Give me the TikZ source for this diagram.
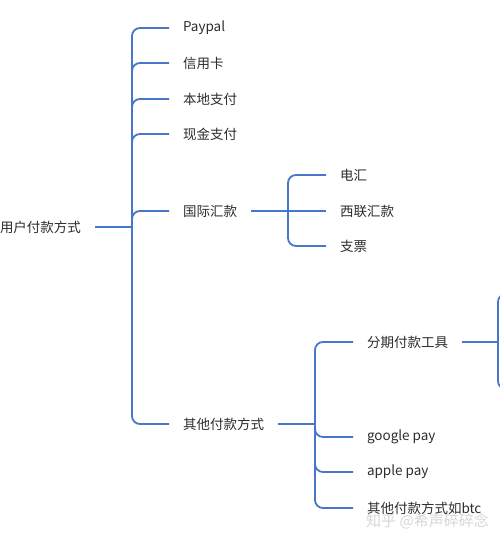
\documentclass[tikz,border=0pt]{standalone}
\usepackage{fontspec}
\setmainfont{Noto Sans CJK SC}
\usetikzlibrary{positioning}
\definecolor{linkblue}{RGB}{72,118,200}
\definecolor{textgray}{RGB}{45,45,45}

\tikzset{
  branch/.style={draw=linkblue,line width=1.8pt,rounded corners=8pt},
  item/.style={anchor=west,inner sep=0pt,outer xsep=14pt,text=textgray,font=\fontsize{13.5}{15}\selectfont},
}

\begin{document}
\begin{tikzpicture}[x=1pt,y=-1pt]
\useasboundingbox (0,0) rectangle (500,536);
\clip (0,0) rectangle (500,536);
\fill [white] (0,0) rectangle (500,536);

\node [item] (root) at(-14,227){用户付款方式};

\node [item] (paypal) at(169,28){Paypal};
\node [item] (xyk) at(169,63){信用卡};
\node [item] (bdzf) at(169,99){本地支付};
\node [item] (xjzf) at(169,134){现金支付};
\node [item] (gjhk) at(169,211){国际汇款};
\node [item] (qtfk) at(169,424){其他付款方式};

\node [item] (dh) at(326,175){电汇};
\node [item] (xlhk) at(326,211){西联汇款};
\node [item] (zp) at(326,246){支票};

\node [item] (fqgj) at(353,342){分期付款工具};
\node [item] (gpay) at(353,437){google pay};
\node [item] (apay) at(353,472){apple pay};
\node [item] (btc) at(353,508){其他付款方式如btc};

% fork points
\coordinate (hub1) at (132,227);
\coordinate (hub2) at (288,211);
\coordinate (hub3) at (315,424);
\coordinate (hub4) at (498,342);

% root fork
\draw [branch] (root.east) -- (hub1);
\foreach \c in {paypal,xyk,bdzf,xjzf,gjhk,qtfk}
  \draw [branch] (hub1) |- (\c.west);

% 国际汇款
\draw [branch] (gjhk.east) -- (xlhk.west);
\foreach \c in {dh,zp}
  \draw [branch] (hub2) |- (\c.west);

% 其他付款方式
\draw [branch] (qtfk.east) -- (hub3);
\foreach \c in {fqgj,gpay,apay,btc}
  \draw [branch] (hub3) |- (\c.west);

% 分期付款工具, cut off at the edge
\draw [branch] (fqgj.east) -- (hub4);
\coordinate (off1) at (530,294);
\coordinate (off2) at (530,389);
\draw [branch] (hub4) |- (off1);
\draw [branch] (hub4) |- (off2);

\node [anchor=west,inner sep=0pt,text=gray!40,opacity=0.8,font=\fontsize{15}{17}\selectfont] (wm) at(366,521){知乎 @希声碎碎念};
\end{tikzpicture}
\end{document}
